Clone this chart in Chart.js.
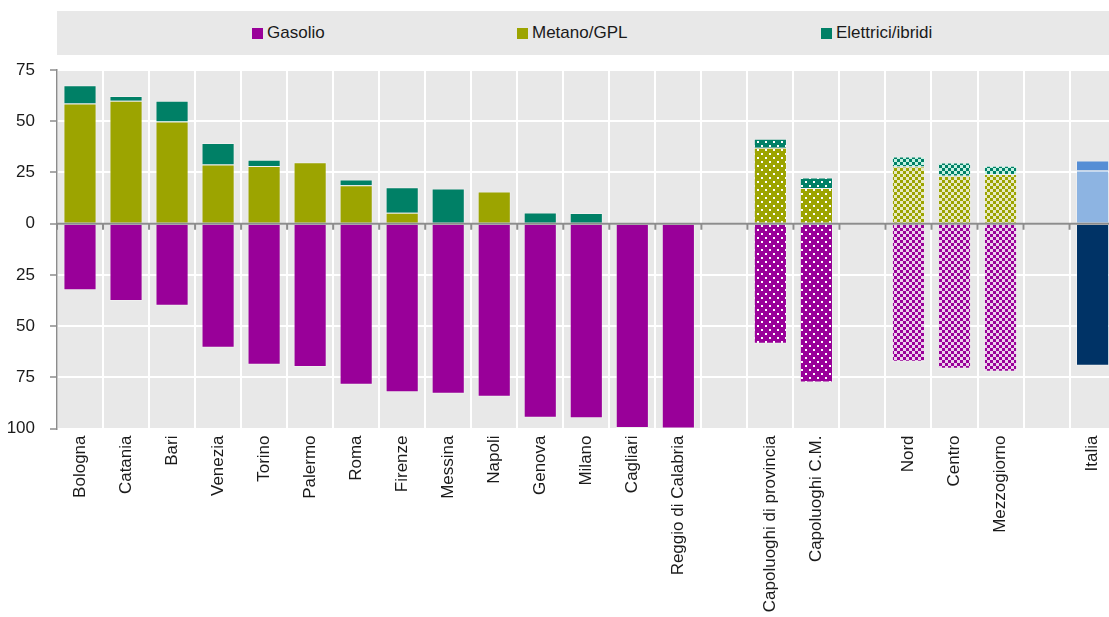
<!DOCTYPE html>
<html>
<head>
<meta charset="utf-8">
<script src="https://cdn.jsdelivr.net/npm/chart.js@4.4.0/dist/chart.umd.min.js"></script>
<style>
  html, body { margin: 0; padding: 0; background: #fff; overflow: hidden; }
  #wrap { position: relative; width: 1120px; height: 617px; }
  #legend { position: absolute; left: 57px; top: 11px; right: 0; height: 44px; background: #e8e8e8;
            font: 17px 'Liberation Sans', Arial, sans-serif; color: #1a1a1a; }
  #legend .item { position: absolute; top: 0; line-height: 44px; white-space: nowrap; }
  #legend .item i { display: inline-block; width: 11px; height: 11px; margin-right: 4px; vertical-align: -1px; }
</style>
</head>
<body>
<div id="wrap">
  <canvas id="fuelChart" width="1120" height="617"></canvas>
  <div id="legend"></div>
</div>
<script>
// categorie (stringa vuota = spazio tra i gruppi)
const categories = ['Bologna', 'Catania', 'Bari', 'Venezia', 'Torino', 'Palermo', 'Roma', 'Firenze',
  'Messina', 'Napoli', 'Genova', 'Milano', 'Cagliari', 'Reggio di Calabria', '',
  'Capoluoghi di provincia', 'Capoluoghi C.M.', '', 'Nord', 'Centro', 'Mezzogiorno', '', 'Italia']

// quote percentuali
const gasolio = [32.5, 37.8, 40.1, 60.6, 68.9, 70.0, 78.6, 82.3, 83.0, 84.5, 94.8, 95.0, 99.7, 100, null,
  58.6, 77.6, null, 67.4, 70.8, 72.3, null, 69.4]
const metano = [58.6, 60.0, 49.8, 28.9, 28.1, 30.0, 18.7, 5.3, 0, 15.7, 0, 0, 0, 0, null,
  37.0, 17.4, null, 27.9, 23.4, 24.2, null, 26.0]
const elettrici = [8.9, 2.3, 10.2, 10.5, 3.1, 0, 2.9, 12.5, 17.2, 0, 5.4, 5.2, 0.4, 0, null,
  4.5, 5.1, null, 4.9, 6.5, 4.1, null, 4.8]

// tipo di riempimento per ogni barra
const barStyle = ['solid', 'solid', 'solid', 'solid', 'solid', 'solid', 'solid', 'solid', 'solid', 'solid',
  'solid', 'solid', 'solid', 'solid', null, 'dots', 'dots', null, 'check', 'check', 'check', null, 'italia']

const seriesNames = ['Gasolio', 'Metano/GPL', 'Elettrici/ibridi']
const baseColors = ['#990099', '#9ca400', '#008066']
const lightColors = ['#ecd0ec', '#e8eac4', '#c4f2e2']
const italiaColors = ['#003366', '#8db4e2', '#558ed5']

const FONT = { family: "'Liberation Sans', Arial, sans-serif", size: 17 }

function dotPattern(color) {
  const c = document.createElement('canvas')
  c.width = 8; c.height = 8
  const g = c.getContext('2d')
  g.fillStyle = color; g.fillRect(0, 0, 8, 8)
  g.fillStyle = '#fff'
  g.fillRect(1, 1, 2, 2); g.fillRect(5, 5, 2, 2)
  return g.createPattern(c, 'repeat')
}

function checkPattern(color, light) {
  const c = document.createElement('canvas')
  c.width = 6; c.height = 6
  const g = c.getContext('2d')
  g.fillStyle = light; g.fillRect(0, 0, 6, 6)
  g.fillStyle = color
  g.fillRect(0, 0, 3, 3); g.fillRect(3, 3, 3, 3)
  return g.createPattern(c, 'repeat')
}

function fillsFor(k) {
  const dots = dotPattern(baseColors[k])
  const check = checkPattern(baseColors[k], lightColors[k])
  return barStyle.map(s => {
    switch (s) {
      case 'dots': return dots
      case 'check': return check
      case 'italia': return italiaColors[k]
      default: return baseColors[k]
    }
  })
}

// legenda
const legend = document.querySelector('#legend')
const legendLeft = [195, 460, 764]
seriesNames.forEach((name, k) => {
  const el = document.createElement('span')
  el.className = 'item'
  el.style.left = legendLeft[k] + 'px'
  el.innerHTML = '<i style="background:' + baseColors[k] + '"></i>' + name
  legend.appendChild(el)
})

// sfondo area grafico + asse dello zero con tacche
const plotDecor = {
  id: 'plotDecor',
  beforeDraw(chart) {
    const { ctx, chartArea: a } = chart
    ctx.save()
    ctx.fillStyle = '#e8e8e8'
    ctx.fillRect(a.left, a.top, a.right - a.left, a.bottom - a.top)
    ctx.restore()
  },
  afterDatasetsDraw(chart) {
    const { ctx, chartArea: a, scales: { x, y } } = chart
    const y0 = y.getPixelForValue(0)
    const step = x.getPixelForValue(1) - x.getPixelForValue(0)
    ctx.save()
    ctx.strokeStyle = '#8c8c8c'
    ctx.lineWidth = 2
    ctx.beginPath()
    ctx.moveTo(a.left, y0); ctx.lineTo(a.right, y0)
    for (let i = 0; i <= categories.length; i++) {
      const px = x.getPixelForValue(0) - step / 2 + i * step
      ctx.moveTo(px, y0); ctx.lineTo(px, y0 + 6)
    }
    ctx.stroke()
    ctx.restore()
  }
}

const datasets = [gasolio.map(v => v == null ? null : -v), metano, elettrici].map((values, k) => ({
  label: seriesNames[k],
  data: values,
  backgroundColor: fillsFor(k),
  borderColor: 'rgba(255,255,255,0.3)',
  borderWidth: 1,
  barPercentage: 0.72,
  categoryPercentage: 1
}))

new Chart(document.querySelector('#fuelChart'), {
  type: 'bar',
  data: { labels: categories, datasets: datasets },
  options: {
    responsive: false,
    animation: false,
    layout: { padding: { top: 70, right: 1, left: 0, bottom: 0 } },
    plugins: { legend: { display: false }, tooltip: { enabled: false } },
    scales: {
      x: {
        stacked: true,
        grid: { offset: true, color: '#fff', lineWidth: 2, drawTicks: false },
        border: { display: false },
        ticks: { autoSkip: false, minRotation: 90, maxRotation: 90, padding: 7, font: FONT, color: '#1a1a1a' },
        afterFit(s) { s.height = 188.5 }
      },
      y: {
        stacked: true,
        min: -100,
        max: 75,
        ticks: { stepSize: 25, padding: 15, font: FONT, color: '#1a1a1a', callback: v => Math.abs(v) },
        grid: { color: '#fff', lineWidth: 2, tickColor: '#8c8c8c', tickLength: 7, tickWidth: 1.5 },
        border: { color: '#8c8c8c', width: 1.5 },
        afterFit(s) { s.width = 57 }
      }
    }
  },
  plugins: [plotDecor]
})
</script>
</body>
</html>
